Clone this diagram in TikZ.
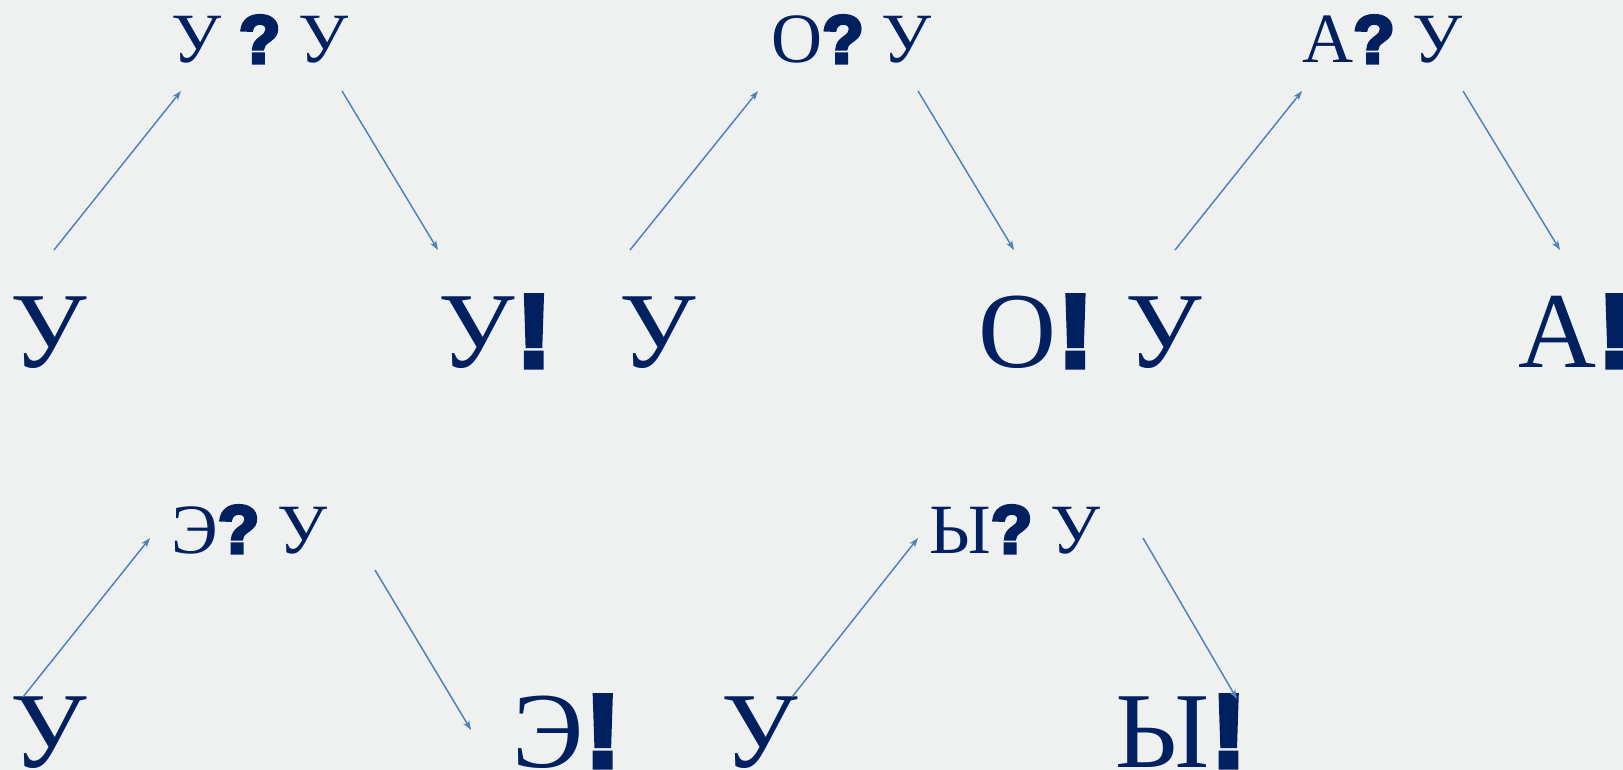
\documentclass[tikz,border=0pt]{standalone}
\usepackage{fontspec}
\usetikzlibrary{arrows.meta}
\newfontfamily\serf{Liberation Serif}
\newfontfamily\hvy{Liberation Sans}[UprightFont={* Bold}, FakeBold=5, Scale=0.96]
\definecolor{navy}{RGB}{0,32,96}
\definecolor{arrowblue}{RGB}{79,129,189}
\definecolor{bg}{RGB}{239,240,240}
\newcommand{\Q}{{\hvy ?}}
\newcommand{\E}{{\hvy \kern1.5pt!}}
\tikzset{
  bigtxt/.style={anchor=base west, inner sep=0pt, text=navy, font=\fontsize{81}{81}\selectfont\serf},
  smalltxt/.style={anchor=base west, inner sep=0pt, text=navy, font=\fontsize{53}{53}\selectfont\serf},
  conn/.style={draw=arrowblue, line width=1.1pt, -{Stealth[length=7pt,width=5pt,inset=2pt]}}
}
\begin{document}
\begin{tikzpicture}[x=0.75pt,y=-0.75pt]
\fill[bg] (0,0) rectangle (1623,770);
\useasboundingbox (0,0) rectangle (1623,770);
% top row labels
\node[smalltxt] (t1) at (171,63) {У \Q{} У};
\node[smalltxt] (t2) at (771,63) {О\Q{} У};
\node[smalltxt] (t3) at (1302,63) {А\Q{} У};
% big row 1
\node[bigtxt] (b1) at (10,367) {У};
\node[bigtxt] (b2) at (438,367) {У\E};
\node[bigtxt] (b3) at (619,367) {У};
\node[bigtxt] (b4) at (978,367) {О\E};
\node[bigtxt] (b5) at (1125,367) {У};
\node[bigtxt] (b6) at (1518,367) {А\E};
% row 2 labels
\node[smalltxt] (t4) at (171,553) {Э\Q{} У};
\node[smalltxt] (t5) at (929,553) {Ы\Q{} У};
% big row 2
\node[bigtxt] (c1) at (10,767) {У};
\node[bigtxt] (c2) at (512,767) {Э\E};
\node[bigtxt] (c3) at (721,767) {У};
\node[bigtxt] (c4) at (1115,767) {Ы\E};
% arrow ends
\coordinate (a1s) at (54,250);   \coordinate (a1e) at (181,91);
\coordinate (a2s) at (342,91);   \coordinate (a2e) at (438,250);
\coordinate (a3s) at (630,250);  \coordinate (a3e) at (758,91);
\coordinate (a4s) at (918,91);   \coordinate (a4e) at (1014,250);
\coordinate (a5s) at (1175,250); \coordinate (a5e) at (1302,91);
\coordinate (a6s) at (1463,91);  \coordinate (a6e) at (1560,250);
\coordinate (a7s) at (23,697);   \coordinate (a7e) at (150,538);
\coordinate (a8s) at (375,570);  \coordinate (a8e) at (471,730);
\coordinate (a9s) at (792,697);  \coordinate (a9e) at (918,538);
\coordinate (a10s) at (1143,538); \coordinate (a10e) at (1237,699);
\draw[conn] (a1s) -- (a1e);
\draw[conn] (a2s) -- (a2e);
\draw[conn] (a3s) -- (a3e);
\draw[conn] (a4s) -- (a4e);
\draw[conn] (a5s) -- (a5e);
\draw[conn] (a6s) -- (a6e);
\draw[conn] (a7s) -- (a7e);
\draw[conn] (a8s) -- (a8e);
\draw[conn] (a9s) -- (a9e);
\draw[conn] (a10s) -- (a10e);
\end{tikzpicture}
\end{document}
